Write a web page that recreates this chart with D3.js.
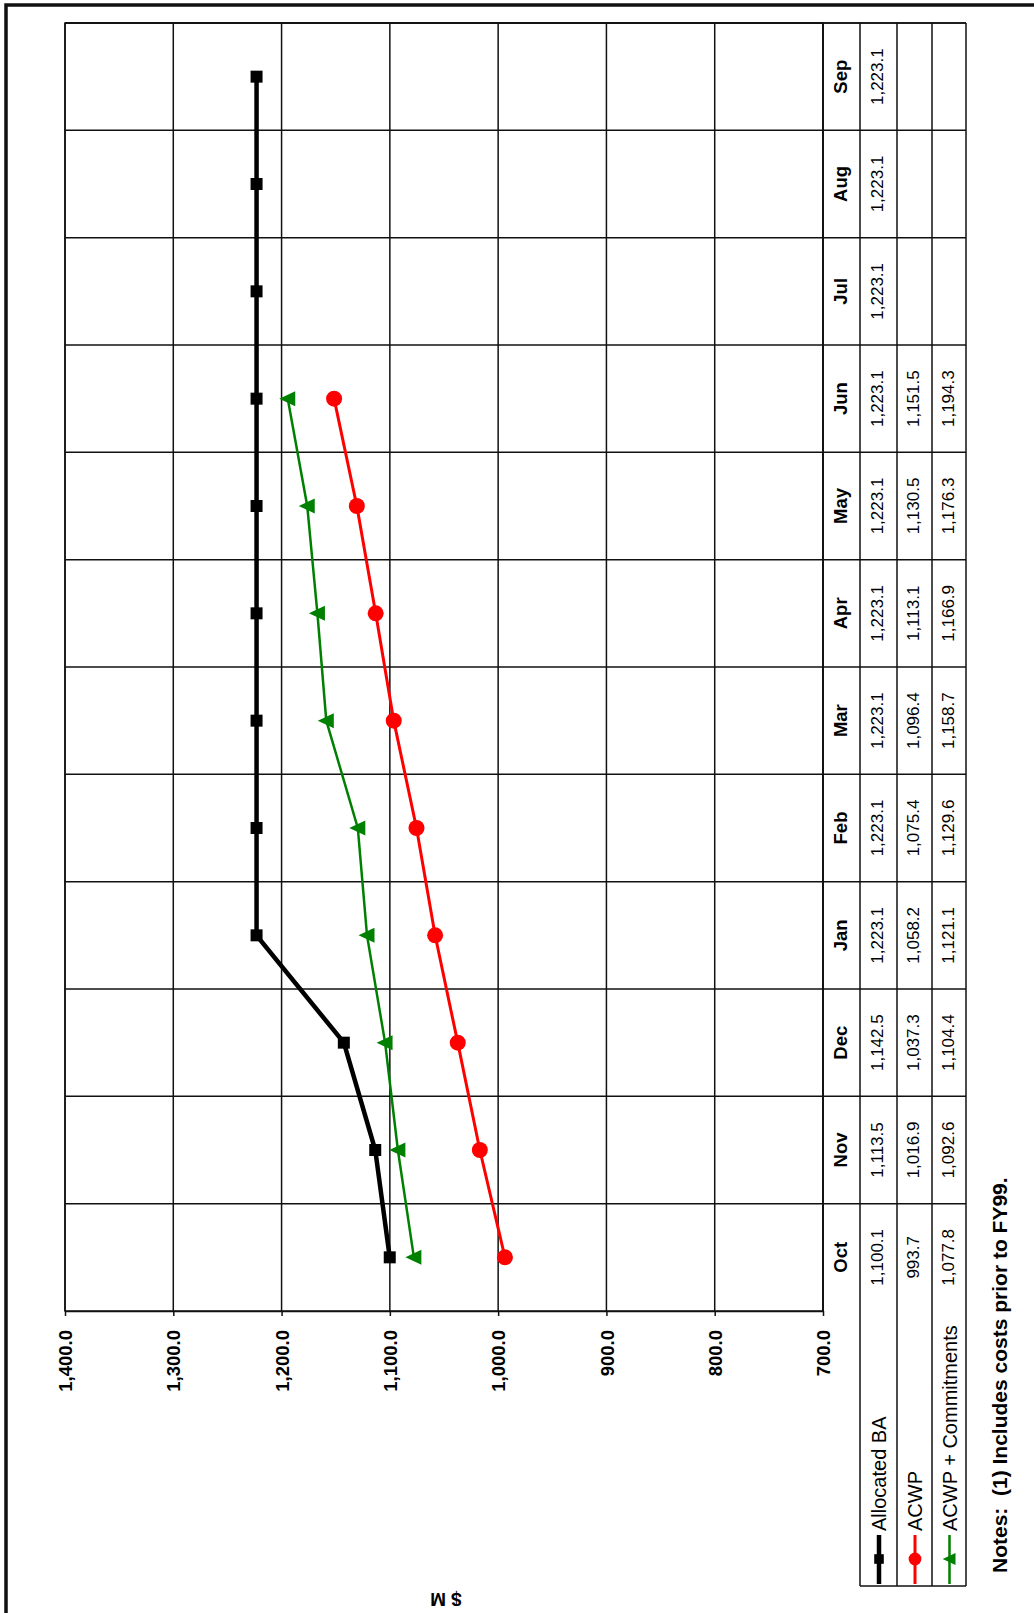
<!DOCTYPE html>
<html>
<head>
<meta charset="utf-8">
<script src="https://cdn.jsdelivr.net/npm/d3@7"></script>
<style>
  html, body { margin: 0; padding: 0; background: #fff; }
  svg { display: block; }
  text { font-family: "Liberation Sans", Arial, Helvetica, sans-serif; fill: #000; }
</style>
</head>
<body>
<svg id="chart" width="1034" height="1613"></svg>
<script>
// Fiscal-year months, Oct through Sep
const months = ["Oct", "Nov", "Dec", "Jan", "Feb", "Mar", "Apr", "May", "Jun", "Jul", "Aug", "Sep"];

// Cumulative values, $M
const allocatedBA = [1100.1, 1113.5, 1142.5, 1223.1, 1223.1, 1223.1, 1223.1, 1223.1, 1223.1, 1223.1, 1223.1, 1223.1];
const acwp = [993.7, 1016.9, 1037.3, 1058.2, 1075.4, 1096.4, 1113.1, 1130.5, 1151.5, null, null, null];
const acwpCommitments = [1077.8, 1092.6, 1104.4, 1121.1, 1129.6, 1158.7, 1166.9, 1176.3, 1194.3, null, null, null];

const seriesNames = ["Allocated BA", "ACWP", "ACWP + Commitments"];
const valueTicks = [700, 800, 900, 1000, 1100, 1200, 1300, 1400];
const axisTitle = "$ M";
const noteText = "Notes:  (1) Includes costs prior to FY99.";

// The page is laid out sideways: months run bottom→top, values right→left.
const plot = { left: 65, right: 823, top: 23, bottom: 1311 };
const tableCols = [823, 860, 897, 932, 966]; // month header + one column per series
const legendBottom = 1586;

const svg = d3.select("#chart");

const x = d3.scaleLinear().domain([700, 1400]).range([plot.right, plot.left]);
const y = d3.scaleBand().domain(months).range([plot.bottom, plot.top]).padding(0);
const bw = y.bandwidth();
const yc = m => y(m) + bw / 2;
const fmt = d3.format(",.1f");

// Outer page frame
svg.append("rect")
  .attr("x", 6).attr("y", 5).attr("width", 1040).attr("height", 1620)
  .attr("fill", "none").attr("stroke", "#111").attr("stroke-width", 3.5);

const grid = svg.append("g").attr("stroke", "#111").attr("stroke-width", 1.5).attr("fill", "none");

// Value gridlines
grid.selectAll("line.v").data(valueTicks).join("line")
  .attr("x1", d => x(d)).attr("x2", d => x(d))
  .attr("y1", plot.top).attr("y2", plot.bottom);

// Month band boundaries, running through the data table
const bounds = months.map(m => y(m)).concat([plot.top]);
grid.selectAll("line.h").data(bounds).join("line")
  .attr("x1", plot.left).attr("x2", tableCols[tableCols.length - 1])
  .attr("y1", d => d).attr("y2", d => d);

// Plot frame
grid.append("rect")
  .attr("x", plot.left).attr("y", plot.top)
  .attr("width", plot.right - plot.left).attr("height", plot.bottom - plot.top);

// Table column separators
grid.selectAll("line.c").data(tableCols).join("line")
  .attr("x1", d => d).attr("x2", d => d)
  .attr("y1", plot.top).attr("y2", plot.bottom);

// Legend box under the series columns
grid.selectAll("line.lc").data(tableCols.slice(1)).join("line")
  .attr("x1", d => d).attr("x2", d => d)
  .attr("y1", plot.bottom).attr("y2", legendBottom);
grid.append("line")
  .attr("x1", tableCols[1]).attr("x2", tableCols[4])
  .attr("y1", legendBottom).attr("y2", legendBottom);

// Value axis along the bottom edge
const axis = d3.axisBottom(x).tickValues(valueTicks).tickFormat(fmt).tickSize(5).tickSizeOuter(0);
const axG = svg.append("g").attr("transform", `translate(0,${plot.bottom})`).call(axis);
axG.select(".domain").attr("stroke", "#111").attr("stroke-width", 1.5);
axG.selectAll(".tick line").attr("stroke", "#111").attr("stroke-width", 1.5);
axG.selectAll(".tick text")
  .attr("transform", "rotate(-90)")
  .attr("x", -19).attr("y", 0).attr("dy", "0.36em")
  .attr("text-anchor", "end")
  .style("font-size", "18.5px").style("font-weight", "bold")
  .attr("fill", "#000");

// Series definitions
const series = [
  { name: seriesNames[0], values: allocatedBA, color: "#000000", width: 4.5, marker: "square" },
  { name: seriesNames[1], values: acwp, color: "#ff0000", width: 3, marker: "circle" },
  { name: seriesNames[2], values: acwpCommitments, color: "#008000", width: 2.5, marker: "triangle" }
];

const markerPath = (type, s) => {
  if (type === "square") return `M${-6 * s},${-6 * s}h${12 * s}v${12 * s}h${-12 * s}Z`;
  if (type === "triangle") return `M${-8.5 * s},0L${7.5 * s},${-7.5 * s}L${7.5 * s},${7.5 * s}Z`;
  const r = 8 * s;
  return `M${-r},0a${r},${r} 0 1,0 ${2 * r},0a${r},${r} 0 1,0 ${-2 * r},0Z`;
};

const line = d3.line()
  .defined(d => d.v != null)
  .x(d => x(d.v))
  .y(d => yc(d.m));

series.forEach(s => {
  const pts = months.map((m, i) => ({ m, v: s.values[i] }));
  const g = svg.append("g");
  g.append("path").datum(pts)
    .attr("d", line)
    .attr("fill", "none").attr("stroke", s.color)
    .attr("stroke-width", s.width).attr("stroke-linejoin", "miter");
  g.selectAll("path.mk").data(pts.filter(d => d.v != null)).join("path")
    .attr("class", "mk")
    .attr("transform", d => `translate(${x(d.v)},${yc(d.m)})`)
    .attr("d", markerPath(s.marker, 1))
    .attr("fill", s.color);
});

// Data table: month headers
const colCenter = i => (tableCols[i] + tableCols[i + 1]) / 2;
svg.append("g").selectAll("text").data(months).join("text")
  .attr("transform", d => `translate(${colCenter(0) - 1},${yc(d)}) rotate(-90)`)
  .attr("text-anchor", "middle").attr("dy", "0.36em")
  .style("font-size", "18.5px").style("font-weight", "bold")
  .text(d => d);

// Data table: series values
series.forEach((s, si) => {
  svg.append("g").selectAll("text")
    .data(months.map((m, i) => ({ m, v: s.values[i] })).filter(d => d.v != null))
    .join("text")
    .attr("transform", d => `translate(${colCenter(si + 1) - 1.5},${yc(d.m)}) rotate(-90)`)
    .attr("text-anchor", "middle").attr("dy", "0.36em")
    .style("font-size", "17px")
    .text(d => fmt(d.v));
});

// Legend entries under each series column
series.forEach((s, si) => {
  const cx = colCenter(si + 1) + 0.5;
  const g = svg.append("g");
  g.append("line")
    .attr("x1", cx).attr("x2", cx).attr("y1", 1535).attr("y2", 1584)
    .attr("stroke", s.color).attr("stroke-width", s.width);
  g.append("path")
    .attr("transform", `translate(${cx},1559)`)
    .attr("d", markerPath(s.marker, 0.8))
    .attr("fill", s.color);
  g.append("text")
    .attr("transform", `translate(${cx},1531) rotate(-90)`)
    .attr("text-anchor", "start").attr("dy", "0.36em")
    .style("font-size", "20px")
    .text(s.name);
});

// Footnote
svg.append("text")
  .attr("transform", "translate(999,1573) rotate(-90)")
  .attr("text-anchor", "start").attr("dy", "0.36em")
  .style("font-size", "21px").style("font-weight", "bold")
  .style("white-space", "pre")
  .text(noteText);

// Value axis title
svg.append("text")
  .attr("transform", "translate(446,1600) rotate(180)")
  .attr("text-anchor", "middle").attr("dy", "0.36em")
  .style("font-size", "19px").style("font-weight", "bold")
  .text(axisTitle);
</script>
</body>
</html>
